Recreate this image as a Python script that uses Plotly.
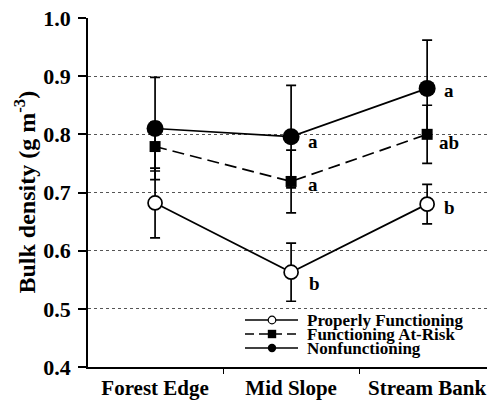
import plotly.graph_objects as go

# ---- data ----
sites = ["Forest Edge", "Mid Slope", "Stream Bank"]
series_names = ["Properly Functioning", "Functioning At-Risk", "Nonfunctioning"]

pf_mean = [0.682, 0.563, 0.680]
pf_err = [0.060, 0.050, 0.034]

ar_mean = [0.779, 0.719, 0.800]
ar_err = [0.042, 0.054, 0.050]

nf_mean = [0.810, 0.796, 0.879]
nf_err = [0.088, 0.088, 0.083]

# significance letters (series index, site index, text)
letters = [
    (2, 1, "a"), (1, 1, "a"), (0, 1, "b"),
    (2, 2, "a"), (1, 2, "ab"), (0, 2, "b"),
]

y_ticks = [0.4, 0.5, 0.6, 0.7, 0.8, 0.9, 1.0]

# ---- layout constants (pixels) ----
W, H = 487, 400
L, R, T, B = 88, 0, 18, 33
PW, PH = W - L - R, H - T - B
SERIF = "Liberation Serif"

xs = list(range(len(sites)))
means = [pf_mean, ar_mean, nf_mean]
errs = [pf_err, ar_err, nf_err]

styles = [
    dict(line=dict(color="black", width=1.7),
         marker=dict(symbol="circle", size=14, color="white",
                     line=dict(color="black", width=1.7))),
    dict(line=dict(color="black", width=1.7, dash="12px,6px"),
         marker=dict(symbol="square", size=11, color="black",
                     line=dict(color="black", width=0))),
    dict(line=dict(color="black", width=1.7),
         marker=dict(symbol="circle", size=17, color="black",
                     line=dict(color="black", width=0))),
]

fig = go.Figure()
for name, m, e, st in zip(series_names, means, errs, styles):
    fig.add_trace(go.Scatter(
        x=xs, y=m, name=name, mode="lines+markers",
        line=st["line"], marker=st["marker"],
        error_y=dict(type="data", array=e, symmetric=True,
                     color="black", thickness=1.7, width=5),
        showlegend=False,
    ))

# letters
shifts = {(2, 1): (22, -5), (1, 1): (22, -3), (0, 1): (23, -11),
          (2, 2): (22, -2), (1, 2): (22, -8), (0, 2): (22, -3)}
for si, ci, txt in letters:
    dx, dy = shifts[(si, ci)]
    fig.add_annotation(x=xs[ci], y=means[si][ci], text="<b>%s</b>" % txt,
                       showarrow=False, xshift=dx, yshift=dy,
                       font=dict(family=SERIF, size=19, color="black"))

# ---- manual legend ----
def px_x(px):
    return (px - L) / PW

def px_y(py):
    return (H - B - py) / PH

leg_rows = [320, 334, 348]
for i, (name, st) in enumerate(zip(series_names, styles)):
    yy = px_y(leg_rows[i])
    fig.add_shape(type="line", xref="paper", yref="paper",
                  x0=px_x(245), x1=px_x(298), y0=yy, y1=yy,
                  line=dict(color="black", width=1.7,
                            dash="9px,5px" if i == 1 else "solid"))
    cx, cy = 272, leg_rows[i]
    if i == 0:
        r = 3.8
        fig.add_shape(type="circle", xref="paper", yref="paper",
                      x0=px_x(cx - r), x1=px_x(cx + r),
                      y0=px_y(cy + r), y1=px_y(cy - r),
                      fillcolor="white", line=dict(color="black", width=1.2))
    elif i == 1:
        r = 4.2
        fig.add_shape(type="rect", xref="paper", yref="paper",
                      x0=px_x(cx - r), x1=px_x(cx + r),
                      y0=px_y(cy + r), y1=px_y(cy - r),
                      fillcolor="black", line=dict(color="black", width=0))
    else:
        r = 4.2
        fig.add_shape(type="circle", xref="paper", yref="paper",
                      x0=px_x(cx - r), x1=px_x(cx + r),
                      y0=px_y(cy + r), y1=px_y(cy - r),
                      fillcolor="black", line=dict(color="black", width=0))
    fig.add_annotation(xref="paper", yref="paper", x=px_x(305), y=yy,
                       xanchor="left", yanchor="middle", showarrow=False,
                       text="<b>%s</b>" % name,
                       font=dict(family=SERIF, size=17, color="black"))

# y-axis title as a rotated annotation
fig.add_annotation(xref="paper", yref="paper", x=px_x(24), y=0.5,
                   xanchor="center", yanchor="middle", textangle=-90,
                   showarrow=False,
                   text="<b>Bulk density (g m<sup>-3</sup>)</b>",
                   font=dict(family=SERIF, size=24, color="black"))

fig.update_layout(
    width=W, height=H,
    margin=dict(l=L, r=R, t=T, b=B, pad=0, autoexpand=False),
    paper_bgcolor="white", plot_bgcolor="white",
    showlegend=False,
    xaxis=dict(
        automargin=False,
        range=[-0.493, 2.44],
        tickvals=xs, ticktext=["<b>%s</b>" % s for s in sites],
        ticks="", tickfont=dict(family=SERIF, size=21, color="black"),
        ticklabeloverflow="allow",
        showgrid=False, zeroline=False,
        showline=True, linecolor="black", linewidth=1.7,
        ticklabelstandoff=1,
        minor=dict(tickvals=[0.5, 1.5], ticks="outside", ticklen=5,
                   tickwidth=1, tickcolor="black", showgrid=False),
    ),
    yaxis=dict(
        automargin=False,
        range=[0.4, 1.0], tickvals=y_ticks,
        ticktext=["<b>%.1f</b>" % v for v in y_ticks],
        ticks="outside", ticklen=8, tickwidth=1.7, tickcolor="black",
        tickfont=dict(family=SERIF, size=22, color="black"),
        showgrid=True, gridcolor="#555", gridwidth=1, griddash="dot",
        zeroline=False, showline=True, linecolor="black", linewidth=1.7,
        ticklabelstandoff=3,
    ),
)

fig.write_html("out.html")
